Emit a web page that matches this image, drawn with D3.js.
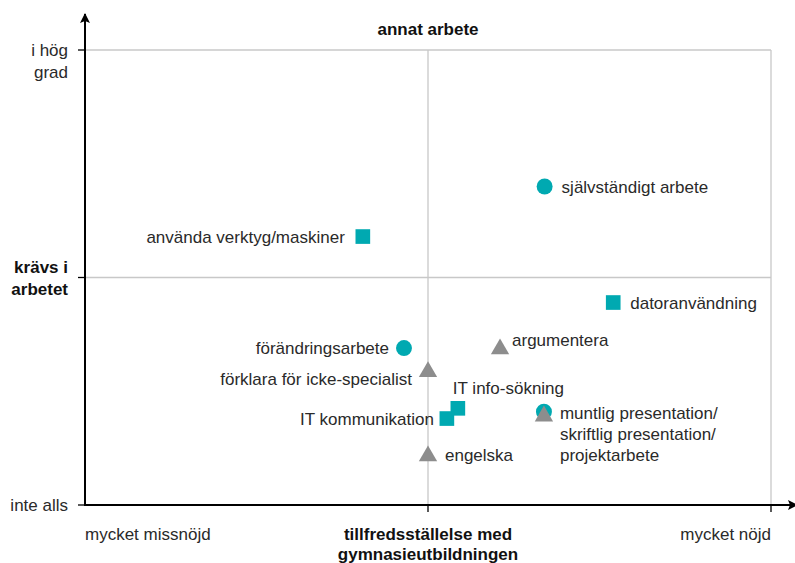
<!DOCTYPE html>
<meta charset="utf-8">
<script src="https://d3js.org/d3.v7.min.js"></script>
<style>
body { margin: 0; background: #fff; }
svg { display: block; font-family: "Liberation Sans", Arial, sans-serif; }
.grid line { stroke: #c8c8c8; stroke-width: 1.3; }
.lbl { font-size: 17px; fill: #2a2a2a; }
.bold { font-weight: bold; fill: #111; }
</style>
<body>
<div class="chart"></div>
<script>

// data (x: satisfaction -1..1, y: required at work -1..1)
var names = ["självständigt arbete", "använda verktyg/maskiner", "datoranvändning",
             "förändringsarbete", "argumentera", "förklara för icke-specialist",
             "IT info-sökning", "IT kommunikation", "muntlig presentation",
             "skriftlig presentation", "engelska"];
var xs = [0.34, -0.19, 0.54, -0.07, 0.21, 0.0, 0.087, 0.055, 0.338, 0.338, 0.0];
var ys = [0.40, 0.18, -0.11, -0.31, -0.31, -0.41, -0.575, -0.62, -0.59, -0.605, -0.78];
var shapes = ["circle", "square", "square", "circle", "triangle", "triangle",
              "square", "square", "circle", "triangle", "triangle"];

// label texts (one entry per visible label) and which point they belong to
var labelPoint = [0, 1, 2, 3, 4, 5, 6, 7, 8, 10];
var labelText = [["självständigt arbete"], ["använda verktyg/maskiner"], ["datoranvändning"],
                 ["förändringsarbete"], ["argumentera"], ["förklara för icke-specialist"],
                 ["IT info-sökning"], ["IT kommunikation"],
                 ["muntlig presentation/", "skriftlig presentation/", "projektarbete"],
                 ["engelska"]];

var yTickVals = [1, 0, -1];
var yTickLabels = [["i hög", "grad"], ["krävs i", "arbetet"], ["inte alls"]];
var xTickVals = [-1, 0, 1];
var xTickLabels = [["mycket missnöjd"], ["tillfredsställelse med", "gymnasieutbildningen"], ["mycket nöjd"]];
var topTitle = "annat arbete";

var W = 795, H = 563;
var svg = d3.select(".chart").append("svg").attr("width", W).attr("height", H);

var x = d3.scaleLinear().domain([-1, 1]).range([85, 771]);
var y = d3.scaleLinear().domain([-1, 1]).range([505, 50]);

var teal = "#00a9b1", grey = "#8d8d8d";

// grid lines
var grid = svg.append("g").attr("class", "grid");
grid.append("line").attr("x1", x(-1)).attr("x2", x(1)).attr("y1", y(1)).attr("y2", y(1));
grid.append("line").attr("x1", x(-1)).attr("x2", x(1)).attr("y1", y(0)).attr("y2", y(0));
grid.append("line").attr("x1", x(0)).attr("x2", x(0)).attr("y1", y(1)).attr("y2", y(-1));
grid.append("line").attr("x1", x(1)).attr("x2", x(1)).attr("y1", y(1)).attr("y2", y(-1));

// arrow marker
svg.append("defs").append("marker")
  .attr("id", "arr").attr("viewBox", "0 0 10 10").attr("refX", 9).attr("refY", 5)
  .attr("markerWidth", 5).attr("markerHeight", 5).attr("orient", "auto")
  .append("path").attr("d", "M0,0L10,5L0,10L2,5Z").attr("fill", "#000");

// axes
svg.append("line").attr("x1", x(-1)).attr("x2", x(-1)).attr("y1", y(-1) + 1).attr("y2", 14)
  .attr("stroke", "#000").attr("stroke-width", 2).attr("marker-end", "url(#arr)");
svg.append("line").attr("x1", x(-1) - 1).attr("x2", 797).attr("y1", y(-1)).attr("y2", y(-1))
  .attr("stroke", "#000").attr("stroke-width", 2).attr("marker-end", "url(#arr)");

// ticks
svg.selectAll(".yt").data(yTickVals).enter().append("line")
  .attr("x1", x(-1) - 7).attr("x2", x(-1)).attr("y1", d => y(d)).attr("y2", d => y(d))
  .attr("stroke", "#000").attr("stroke-width", 1.3);
svg.selectAll(".xt").data(xTickVals.slice(1)).enter().append("line")
  .attr("x1", d => x(d)).attr("x2", d => x(d)).attr("y1", y(-1)).attr("y2", y(-1) + 7)
  .attr("stroke", "#000").attr("stroke-width", 1.3);

// y tick labels
yTickVals.forEach(function(v, i) {
  var t = svg.append("text").attr("class", "lbl" + (v === 0 ? " bold" : ""))
    .attr("text-anchor", "end").attr("x", 68);
  var lines = yTickLabels[i];
  var y0 = v === 0 ? y(v) - 5 : y(v) + 6;
  lines.forEach(function(s, j) {
    t.append("tspan").attr("x", 68).attr("y", y0 + j * 22).text(s);
  });
});

// x tick labels
var anchors = ["start", "middle", "end"];
xTickVals.forEach(function(v, i) {
  var t = svg.append("text").attr("class", "lbl" + (v === 0 ? " bold" : ""))
    .attr("text-anchor", anchors[i]);
  xTickLabels[i].forEach(function(s, j) {
    t.append("tspan").attr("x", x(v)).attr("y", 540 + j * 20).text(s);
  });
});

svg.append("text").attr("class", "lbl bold").attr("text-anchor", "middle")
  .attr("x", x(0)).attr("y", 35).text(topTitle);

// points
var pts = names.map(function(n, i) { return {name: n, x: xs[i], y: ys[i], shape: shapes[i]}; });
var sym = {circle: d3.symbolCircle, square: d3.symbolSquare, triangle: d3.symbolTriangle};
var size = {circle: 200, square: 215, triangle: 145};
// draw circles first so the triangle on top of the shared position shows like the reference
pts.sort(function(a, b) { return (a.shape === "triangle") - (b.shape === "triangle"); });
svg.selectAll(".pt").data(pts).enter().append("path")
  .attr("transform", d => "translate(" + x(d.x) + "," + (y(d.y) + (d.shape === "triangle" ? 1 : 0)) + ")")
  .attr("d", d => d3.symbol().type(sym[d.shape]).size(size[d.shape])())
  .attr("fill", d => d.shape === "triangle" ? grey : teal);

// label layout: offset from point and anchor
var lblDx = [17, -18, 17, -15, 12, -16, -5, -13, 16, 17];
var lblDy = [0, 0, 0, 0, -8, 8, -20, 0, 1, 0];
var lblAnchor = ["start", "end", "start", "end", "start", "end", "start", "end", "start", "start"];

labelPoint.forEach(function(p, i) {
  var px = x(xs[p]) + lblDx[i], py = y(ys[p]) + lblDy[i] + 6;
  var t = svg.append("text").attr("class", "lbl").attr("text-anchor", lblAnchor[i]);
  labelText[i].forEach(function(s, j) {
    t.append("tspan").attr("x", px).attr("y", py + j * 21).text(s);
  });
});

</script>
</body>
</html>
